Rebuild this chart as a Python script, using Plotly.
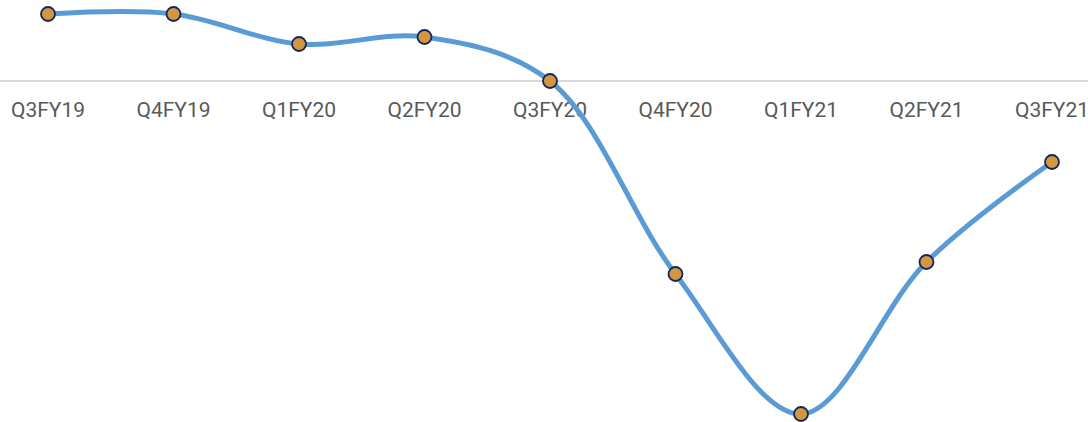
import plotly.graph_objects as go

# Quarterly series
quarters = ["Q3FY19", "Q4FY19", "Q1FY20", "Q2FY20", "Q3FY20",
            "Q4FY20", "Q1FY21", "Q2FY21", "Q3FY21"]
growth = [6.7, 6.7, 3.7, 4.4, 0.0, -19.3, -33.3, -18.1, -8.1]

fig = go.Figure()
fig.add_trace(go.Scatter(
    x=quarters,
    y=growth,
    mode="lines+markers",
    line=dict(color="#5B9BD5", width=5, shape="spline", smoothing=1.0),
    marker=dict(size=14, color="#D4963F",
                line=dict(color="#0F2760", width=1.8)),
    hoverinfo="x+y",
))

fig.update_layout(
    width=1088,
    height=422,
    margin=dict(l=0, r=0, t=0, b=0),
    paper_bgcolor="white",
    plot_bgcolor="white",
    showlegend=False,
    xaxis=dict(
        type="category",
        range=[-0.3825, 8.287],
        anchor="free",
        position=1 - 81 / 422,
        showline=True,
        linecolor="#D9D9D9",
        linewidth=2,
        showgrid=False,
        zeroline=False,
        ticks="outside",
        ticklen=10,
        tickcolor="rgba(0,0,0,0)",
        tickfont=dict(family="Roboto", size=21, color="#595959"),
        layer="below traces",
    ),
    yaxis=dict(
        range=[-34.1, 8.1],
        visible=False,
        showgrid=False,
        zeroline=False,
    ),
)

fig.write_html("out.html")
